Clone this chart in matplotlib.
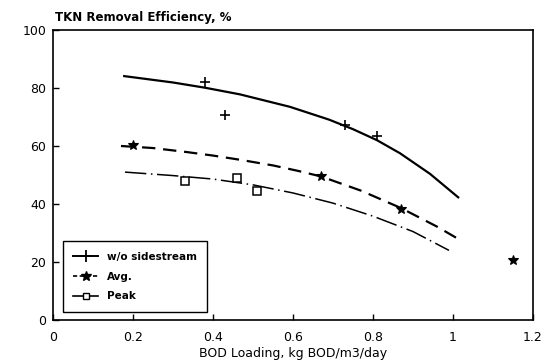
import matplotlib
matplotlib.use("Agg")
import matplotlib.pyplot as plt
from matplotlib.lines import Line2D

# ---- data ----
wo_x = [0.38, 0.43, 0.73, 0.81]
wo_y = [82.0, 70.7, 67.2, 63.5]

avg_x = [0.20, 0.67, 0.87, 1.15]
avg_y = [60.3, 49.7, 38.3, 20.7]

peak_x = [0.33, 0.46, 0.51]
peak_y = [47.9, 49.0, 44.6]

# fitted curves as drawn in the figure
wo_curve_x = [0.178, 0.30, 0.38, 0.4675, 0.5925, 0.69, 0.75, 0.81, 0.8675, 0.9425, 1.013]
wo_curve_y = [84.1, 81.9, 80.1, 77.8, 73.5, 69.1, 65.8, 62.0, 57.5, 50.4, 42.3]

avg_curve_x = [0.17, 0.25, 0.335, 0.40, 0.47, 0.55, 0.61, 0.67, 0.77, 0.87, 0.96, 1.01]
avg_curve_y = [60.0, 59.3, 57.9, 56.7, 55.2, 53.3, 51.5, 49.5, 44.6, 38.6, 32.2, 28.2]

peak_curve_x = [0.18, 0.30, 0.40, 0.50, 0.60, 0.70, 0.80, 0.90, 0.99]
peak_curve_y = [51.0, 49.8, 48.6, 46.6, 43.8, 40.3, 35.8, 30.5, 24.0]

x_ticks = [0, 0.2, 0.4, 0.6, 0.8, 1.0, 1.2]
x_tick_labels = ["0", "0.2", "0.4", "0.6", "0.8", "1", "1.2"]
y_ticks = [0, 20, 40, 60, 80, 100]
y_tick_labels = ["0", "20", "40", "60", "80", "100"]

series_labels = ["w/o sidestream", "Avg.", "Peak"]
title = "TKN Removal Efficiency, %"
xlabel = "BOD Loading, kg BOD/m3/day"

# ---- figure ----
fig = plt.figure(figsize=(5.49, 3.63), dpi=100)
ax = fig.add_axes([53 / 549, 43 / 363, 480 / 549, 290 / 363])

ax.plot(wo_curve_x, wo_curve_y, color="black", lw=1.6, ls="-")
ax.plot(avg_curve_x, avg_curve_y, color="black", lw=1.6, ls=(0, (6, 3.5)))
ax.plot(peak_curve_x, peak_curve_y, color="black", lw=1.1, ls=(0, (14, 3, 1, 3)))

ax.plot(wo_x, wo_y, ls="none", marker="+", ms=7, mew=1.2, color="black")
ax.plot(avg_x, avg_y, ls="none", marker="*", ms=7.5, mew=0.8, color="black")
ax.plot(peak_x, peak_y, ls="none", marker="s", ms=5.5, mew=1.1,
        mfc="white", mec="black")

ax.set_xlim(0, 1.2)
ax.set_ylim(0, 100)
ax.set_xticks(x_ticks)
ax.set_xticklabels(x_tick_labels)
ax.set_yticks(y_ticks)
ax.set_yticklabels(y_tick_labels)
ax.tick_params(direction="in", length=4, width=1, labelsize=9, pad=5,
               colors="black")
ax.tick_params(axis="x", pad=8)
for s in ax.spines.values():
    s.set_linewidth(1.2)
    s.set_color("black")

fig.text(55 / 549, 1 - 18 / 363, title, fontsize=8.5, fontweight="bold",
         ha="left", va="center")
ax.set_xlabel(xlabel, fontsize=9, labelpad=2)

handles = [
    Line2D([], [], color="black", lw=1.4, ls="-", marker="+", ms=8, mew=1.3),
    Line2D([], [], color="black", lw=1.2, ls=(0, (2.5, 1.5)), marker="*", ms=7),
    Line2D([], [], color="black", lw=1.2, ls="-", marker="s", ms=5,
           mfc="white", mec="black"),
]
leg = ax.legend(handles, series_labels, loc="lower left",
                bbox_to_anchor=(0.021, 0.028),
                prop={"weight": "bold", "size": 7.5},
                frameon=True, fancybox=False, edgecolor="black",
                framealpha=1, borderpad=1.0, labelspacing=0.95,
                handlelength=2.4, handletextpad=0.8, borderaxespad=0)
leg.get_frame().set_linewidth(1.0)

fig.savefig("out.png", dpi=100)
